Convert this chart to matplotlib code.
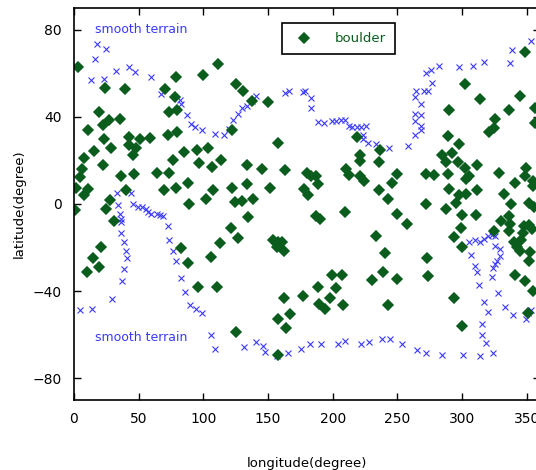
import numpy as np
import matplotlib
matplotlib.use('Agg')
import matplotlib.pyplot as plt

plt.rcParams['font.family'] = ['DejaVu Sans']
plt.rcParams['font.size'] = 10

# boulder positions (longitude, latitude)
boulder_lon = [
    3.1, 78.7, 24.3, 39.8, 70.2, 78.2, 80.0, 73.5, 19.7, 35.4, 27.1, 22.8, 11.1, 79.5, 72.5,
    23.2, 42.3, 50.9, 58.6, 42.3, 47.8, 28.9, 15.8, 84.7, 46.0, 7.5, 76.6, 22.8, 6.5, 36.7,
    46.7, 63.8, 73.8, 4.4, 87.8, 1.9, 10.8, 40.0, 69.2, 78.7, 7.5, 28.2, 0.5, 24.5, 31.0,
    111.5, 99.8, 125.2, 130.8, 137.8, 150.2, 122.3, 95.2, 103.3, 113.8, 106.8, 96.5, 133.7,
    145.0, 133.9, 121.8, 151.2, 89.0, 102.2, 107.6, 124.4, 129.8, 138.3, 134.7, 121.3, 126.9,
    157.9, 163.1, 178.0,
    218.6, 236.6, 221.1, 220.9, 235.6, 180.1, 183.2, 187.1, 188.4, 180.6, 210.3, 212.9, 221.4,
    224.5, 249.5, 245.9, 235.6, 242.6, 249.5, 257.3, 209.5, 187.1, 190.2, 233.5,
    302.6, 313.8, 289.5, 348.8, 344.4, 335.9, 325.1, 324.6, 320.4, 356.0, 356.0, 289.0, 297.5,
    284.6, 287.7, 292.3, 296.7, 301.9, 311.5, 305.0, 303.2, 328.2, 340.6, 349.1, 348.3, 354.8,
    354.8, 271.7, 278.2, 289.0, 290.2, 297.5, 303.2, 311.5, 271.7, 287.2, 294.9, 310.9, 299.8,
    332.3, 337.5, 351.4, 355.3,
    298.9, 294.1, 300.1, 324.8, 330.3, 335.9, 337.2, 335.9, 347.5, 346.7, 345.5, 351.4, 354.0,
    339.8, 342.4, 344.4, 352.7, 351.4, 272.8, 273.5, 341.1, 348.3, 354.5, 294.1, 350.9, 299.8,
    154.0, 157.9, 156.6, 160.5, 162.5, 112.8, 105.6, 88.2, 95.5, 110.7, 82.6, 20.7, 14.7, 19.3,
    10.1, 240.2, 239.2, 230.6, 249.8, 199.2, 207.0, 188.9, 202.6, 177.4, 197.9, 189.6, 194.0,
    207.7, 242.6, 162.1, 166.9, 157.4, 163.9, 125.2, 157.9,
]
boulder_lat = [
    63.1, 58.5, 53.2, 52.6, 52.9, 48.9, 43.2, 42.2, 42.2, 39.2, 38.6, 36.1, 33.8, 33.1, 31.5,
    29.9, 30.9, 29.7, 30.4, 27.3, 25.8, 25.8, 24.2, 23.8, 22.3, 20.9, 20.3, 18.1, 15.9, 12.7,
    13.6, 14.0, 14.4, 12.3, 9.8, 7.2, 7.0, 6.4, 6.3, 7.3, 4.0, 1.7, -2.7, -2.1, -7.6,
    64.2, 59.3, 55.2, 52.1, 47.5, 46.8, 34.1, 24.7, 25.8, 20.4, 16.9, 18.6, 17.8,
    15.9, 9.1, 7.3, 7.5, 0.0, 2.1, 6.4, 0.8, 1.2, 2.5, -5.8, -11.0, -15.7,
    28.1, 15.4, 7.1,
    30.8, 25.0, 22.7, 19.7, 19.2, 14.0, 12.8, 12.8, 9.3, 4.0, 15.9, 13.1, 12.8,
    10.5, 13.6, 9.5, 6.3, 2.1, -4.7, -9.3, -3.7, -5.5, -6.7, -14.6,
    55.2, 48.2, 43.3, 69.7, 49.8, 43.3, 39.0, 34.9, 33.1, 44.1, 37.2, 31.1, 27.7,
    22.7, 19.2, 23.5, 19.5, 16.6, 17.8, 12.8, 11.3, 14.0, 9.8, 16.6, 12.8, 10.5,
    8.2, 13.6, 13.3, 13.6, 6.7, 4.0, 4.4, 6.3, -0.1, -2.1, 0.3, -5.2, -5.0,
    4.4, 0.2, 0.6, -1.6,
    -11.1, -15.1, -19.7, -12.6, -7.8, -5.5, -9.3, -12.3, -10.1, -13.1, -16.6, -9.8, -11.4,
    -17.6, -19.9, -21.5, -22.2, -26.1, -25.0, -32.9, -32.6, -35.2, -39.8, -43.1, -50.0, -56.0,
    -16.5, -17.6, -19.7, -17.6, -21.5, -18.1, -24.2, -27.2, -37.9, -38.2, -20.3, -19.7, -25.0, -29.1,
    -31.4, -22.7, -31.1, -34.7, -34.6, -32.6, -32.6, -38.2, -38.7, -42.1, -43.1, -45.9, -48.1,
    -46.3, -46.6, -43.2, -50.7, -52.7, -57.0, -58.8, -69.2,
]

# smooth terrain boundary points
smooth_lon = [
    13.5, 16.0, 18.1, 23.2, 24.5, 32.8, 42.6, 47.0, 59.9, 66.9, 81.8, 83.1, 87.5, 90.3, 93.5,
    99.1, 108.9, 115.9, 120.0, 123.1, 126.5, 130.0, 133.4, 137.8, 140.6, 163.3, 166.4, 177.2,
    178.8, 183.2, 183.2, 188.4, 193.5, 199.5, 202.6, 206.4, 209.8, 212.4, 214.9, 218.6, 221.9,
    225.8, 223.2, 223.2, 227.1, 233.5, 243.8, 258.5, 263.2, 268.3, 268.3, 263.7, 263.2, 268.3,
    268.3, 263.2, 264.5, 270.9, 273.5, 276.9, 272.2, 276.1, 282.5, 297.5, 308.4, 316.6, 337.2,
    338.8, 352.9,
    33.6, 43.9, 34.1, 35.4, 36.7, 36.1, 36.1, 38.7, 40.0, 41.0, 38.7, 37.2, 29.4, 14.2, 4.4,
    45.7, 49.5, 52.2, 55.5, 57.3, 59.9, 63.8, 66.3, 68.9, 72.3, 73.5, 76.2, 78.7, 83.1, 85.7,
    89.6, 94.7, 98.6, 105.8, 108.9, 131.6, 140.4, 146.3, 147.6, 156.7, 165.6, 175.5, 182.4,
    190.9, 204.3, 209.5, 221.9, 228.1, 238.4, 244.3, 253.9, 265.0, 272.0, 284.4, 300.3, 313.5,
    323.5, 318.7, 315.3, 315.3, 320.0, 316.6, 313.2, 311.7, 309.6, 306.8, 305.7, 309.6, 313.5,
    316.6, 320.0, 323.1, 325.6, 325.6, 329.5, 329.0, 327.0, 325.6, 323.5, 323.1, 327.7, 332.8,
    339.3, 349.6, 353.5, 351.0,
]
smooth_lat = [
    57.0, 66.6, 73.3, 57.5, 71.2, 61.1, 63.1, 60.8, 58.5, 50.5, 47.9, 45.9, 40.7, 36.9, 35.2,
    34.1, 32.2, 31.9, 34.5, 38.7, 41.5, 44.1, 45.1, 47.4, 49.4, 50.9, 52.1, 51.4,
    51.7, 48.6, 44.1, 37.5, 37.2, 37.9, 37.9, 38.4, 38.4, 35.7, 35.2, 35.2, 35.4,
    35.7, 31.9, 29.9, 28.1, 27.7, 25.8, 26.5, 31.9, 33.8, 35.7, 37.9, 41.3, 41.0,
    45.9, 49.1, 52.1, 51.7, 51.7, 55.5, 60.1, 61.6, 63.4, 62.8, 63.4, 65.4, 64.6,
    70.7, 75.0,
    5.2, 5.2, -0.6, -4.7, -7.0, -8.5, -13.1, -17.4, -21.5, -25.0, -29.9, -35.2, -43.6, -48.1, -48.9,
    -0.1, -1.2, -1.6, -2.1, -3.9, -4.7, -4.7, -5.2, -5.5, -10.3, -16.5, -21.5, -26.1, -34.0, -40.5,
    -46.6, -48.1, -50.1, -60.3, -66.7, -65.6, -63.4, -65.4, -67.9, -69.9, -68.3, -66.4, -64.1,
    -64.1, -64.4, -63.1, -64.4, -63.4, -61.9, -61.9, -64.4, -67.2, -68.3, -69.2, -69.2, -69.8,
    -68.3, -63.7, -60.3, -55.0, -49.6, -45.1, -37.2, -31.1, -28.3, -23.5, -17.6, -16.5, -17.4,
    -16.1, -14.6, -14.3, -14.6, -19.2, -20.7, -23.8, -26.1, -27.6, -29.5, -33.6, -41.0, -47.4,
    -51.2, -52.7, -48.5, -50.0,
]

xticks = [0, 50, 100, 150, 200, 250, 300, 350]
yticks = [-80, -40, 0, 40, 80]

green = '#0b5d1e'
blue = '#3a3aff'

fig = plt.figure(figsize=(5.36, 4.70), dpi=100)
# the original picture is cut off on the right, so the axes run past the edge
ax = fig.add_axes([0.138, 0.149, 0.869, 0.834])

ax.plot(smooth_lon, smooth_lat, linestyle='none', marker='x', markersize=4.5,
        markeredgewidth=0.8, color=blue)
ax.plot(boulder_lon, boulder_lat, linestyle='none', marker='D', markersize=4.8,
        markerfacecolor=green, markeredgecolor=green, markeredgewidth=1.1,
        label='boulder')

ax.text(16, 80, 'smooth terrain', color=blue, fontsize=9, va='center')
ax.text(16, -61.5, 'smooth terrain', color=blue, fontsize=9, va='center')

ax.set_xlim(0, 360)
ax.set_ylim(-90, 90)
ax.set_xticks(xticks)
ax.set_yticks(yticks)
ax.tick_params(direction='in', length=5, width=1, top=True, right=True,
               labelsize=10, pad=9)
for s in ax.spines.values():
    s.set_linewidth(1.2)

ax.set_xlabel('longitude(degree)', fontsize=9.5, labelpad=22)
ax.set_ylabel('latitude(degree)', fontsize=9.5, labelpad=5)

leg = ax.legend(loc='upper left', bbox_to_anchor=(0.446, 0.962), fancybox=False,
                edgecolor='black', framealpha=1, fontsize=9.5, handlelength=2.0,
                handletextpad=1.3, borderpad=0.7, borderaxespad=0)
leg.get_frame().set_linewidth(1.2)
for t in leg.get_texts():
    t.set_color(green)

plt.savefig('out.png', dpi=100)
